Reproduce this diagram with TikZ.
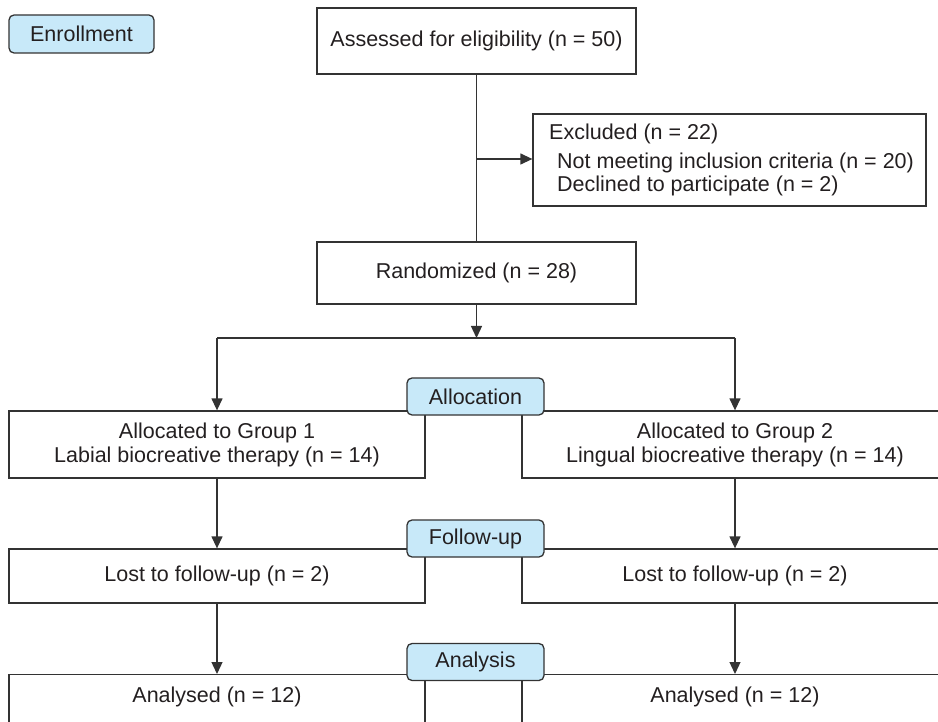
\documentclass[tikz,border=0pt]{standalone}
\usepackage{fontspec}
\setmainfont{Liberation Sans}
\usetikzlibrary{arrows.meta}
\definecolor{labfill}{HTML}{C8E9F9}
\definecolor{ln}{HTML}{333333}
\definecolor{tx}{HTML}{231F20}
\begin{document}
\begin{tikzpicture}[x=1pt,y=-1pt,
  font=\fontsize{21.5}{24}\selectfont,
  box/.style={draw=ln, line width=1.3pt, rectangle, inner sep=0pt, align=center, text=tx},
  txt/.style={inner sep=0pt, text=tx},
  lab/.style={draw=ln, line width=1.3pt, fill=labfill, rounded corners=5pt, inner sep=0pt,
              minimum width=137pt, minimum height=37pt, text=tx},
  conn/.style={draw=ln, line width=1.3pt},
  arr/.style={conn, -{Triangle[length=12pt,width=11pt]}}]
\clip (0,0) rectangle (938,722);
% top
\node[box, minimum width=319pt, minimum height=66pt] (assess) at (476.5,41) {Assessed for eligibility (n = 50)};
\node[box, minimum width=393pt, minimum height=92pt] (excl) at (729.5,160) {};
\node[txt, anchor=west] (ex1) at (549,134) {Excluded (n = 22)};
\node[txt, anchor=west] (ex2) at (557,163) {Not meeting inclusion criteria (n = 20)};
\node[txt, anchor=west] (ex3) at (557,186) {Declined to participate (n = 2)};
\node[box, minimum width=319pt, minimum height=62pt] (rand) at (476.5,273) {Randomized (n = 28)};
\coordinate (split) at (476.5,159);
\draw[conn] (assess) -- (rand);
\draw[arr] (split) -- (excl.west |- split);
% allocation
\node[box, minimum width=416pt, minimum height=67pt] (g1) at (217,444.5) {Allocated to Group 1\\Labial biocreative therapy (n = 14)};
\node[box, minimum width=426pt, minimum height=67pt] (g2) at (735,444.5) {Allocated to Group 2\\Lingual biocreative therapy (n = 14)};
\coordinate (hub) at (476.5,338);
\coordinate (hl) at (217,338);
\coordinate (hr) at (735,338);
\draw[arr] (rand) -- (hub);
\draw[conn] (hl) -- (hr);
\draw[arr] (hl) -- (g1.north);
\draw[arr] (hr) -- (g2.north);
% follow-up
\node[box, minimum width=416pt, minimum height=54pt] (f1) at (217,576) {Lost to follow-up (n = 2)};
\node[box, minimum width=426pt, minimum height=54pt] (f2) at (735,576) {Lost to follow-up (n = 2)};
\draw[arr] (g1) -- (f1);
\draw[arr] (g2) -- (f2);
% analysis
\node[box, minimum width=416pt, minimum height=80pt, anchor=north] (a1) at (217,674) {};
\node[box, minimum width=426pt, minimum height=80pt, anchor=north] (a2) at (735,674) {};
\node[txt] (a1t) at (217,697) {Analysed (n = 12)};
\node[txt] (a2t) at (735,697) {Analysed (n = 12)};
\draw[arr] (f1) -- (a1);
\draw[arr] (f2) -- (a2);
% stage labels
\node[lab, minimum width=145pt, minimum height=38pt] (enr) at (81.5,34) {Enrollment};
\node[lab] (alloc) at (475.5,396.5) {Allocation};
\node[lab] (fup) at (475.5,538.5) {Follow-up};
\node[lab] (anal) at (475.5,662) {Analysis};
\end{tikzpicture}
\end{document}
